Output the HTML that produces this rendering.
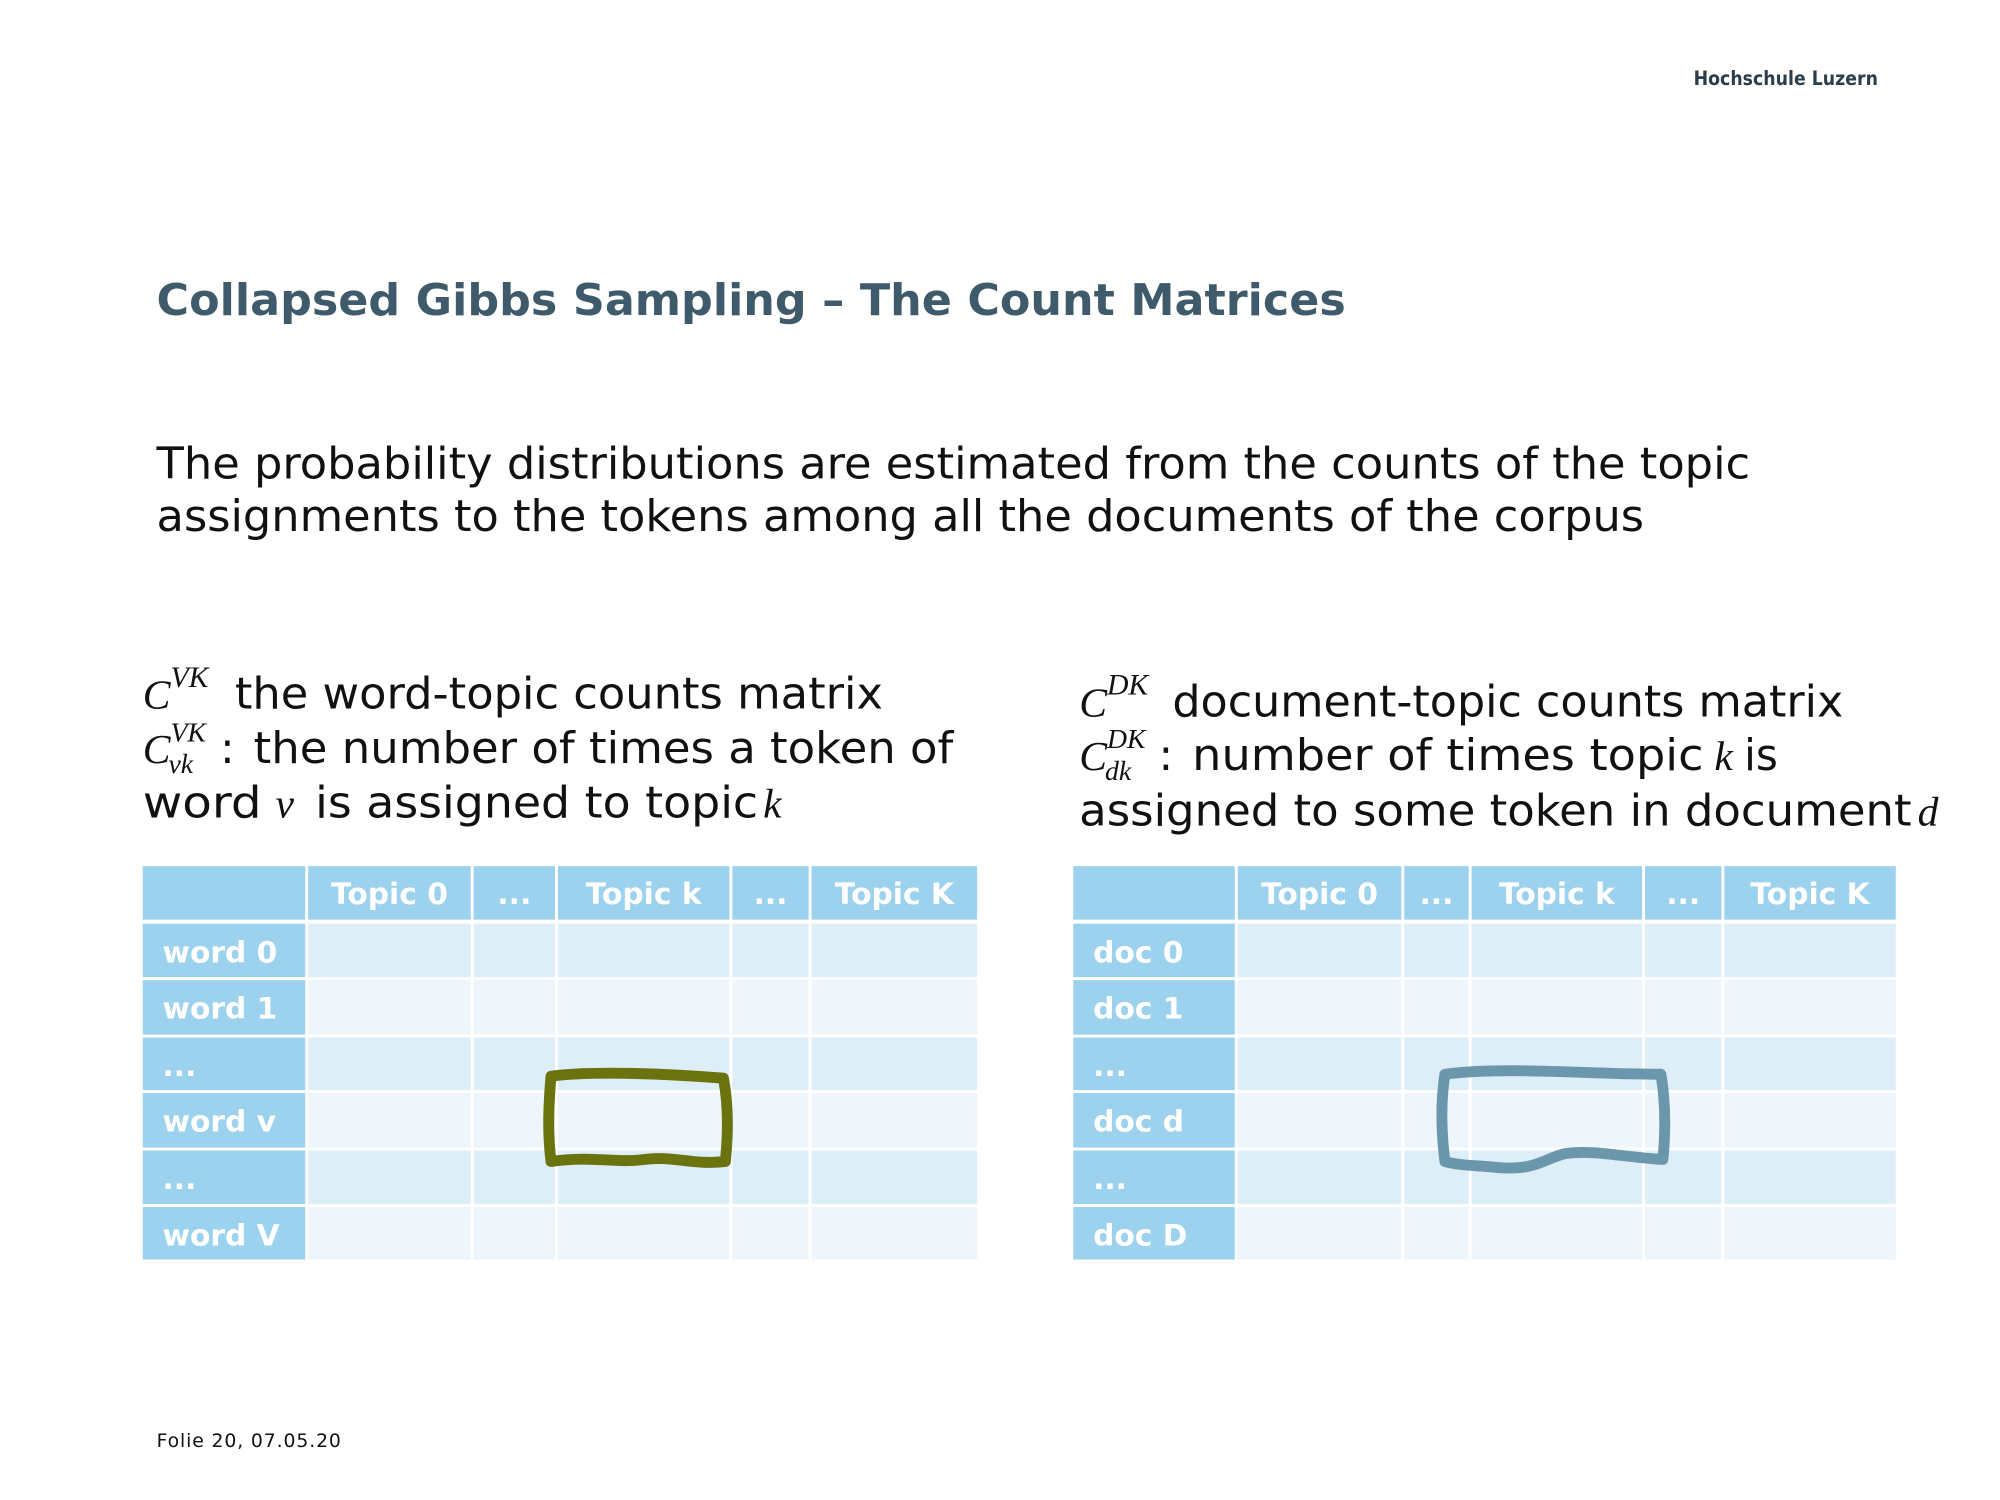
<!DOCTYPE html>
<html><head><meta charset="utf-8"><style>
html,body{margin:0;padding:0;background:#fff;}
svg{display:block;}
.b{font-family:"DejaVu Sans","Liberation Sans",sans-serif;fill:#111;font-size:44px;}
.m{font-family:"Liberation Serif","DejaVu Serif",serif;font-style:italic;fill:#111;}
.th{font-family:"DejaVu Sans","Liberation Sans",sans-serif;font-weight:bold;fill:#fff;font-size:30px;}
</style></head><body>
<svg id="s" width="2000" height="1500" viewBox="0 0 2000 1500" xmlns="http://www.w3.org/2000/svg">
<rect width="2000" height="1500" fill="#fff"/>
<g transform="scale(0.991)">
<text x="1709" y="86" font-family="DejaVu Sans, sans-serif" font-size="20" font-weight="bold" fill="#2c3e4a" textLength="186" lengthAdjust="spacingAndGlyphs">Hochschule Luzern</text>
<text x="158" y="318" font-family="DejaVu Sans, sans-serif" font-weight="bold" font-size="44" fill="#3f5b6b" textLength="1200" lengthAdjust="spacingAndGlyphs">Collapsed Gibbs Sampling – The Count Matrices</text>
<text class="b" x="158" y="483" textLength="1608" lengthAdjust="spacingAndGlyphs">The probability distributions are estimated from the counts of the topic</text>
<text class="b" x="158" y="536" textLength="1501" lengthAdjust="spacingAndGlyphs">assignments to the tokens among all the documents of the corpus</text>

<g>
<text class="m" x="144" y="715" font-size="42">C</text><text class="m" x="172" y="693" font-size="30">VK</text>
<text class="b" x="237" y="715" textLength="654" lengthAdjust="spacingAndGlyphs">the word-topic counts matrix</text>
<text class="m" x="144" y="770" font-size="42">C</text><text class="m" x="172" y="748" font-size="28">VK</text><text class="m" x="170" y="780" font-size="28">vk</text>
<text class="b" x="222" y="770">:</text>
<text class="b" x="256" y="770" textLength="706" lengthAdjust="spacingAndGlyphs">the number of times a token of</text>
<text class="b" x="144" y="825" textLength="120" lengthAdjust="spacingAndGlyphs">word</text><text class="m" x="278" y="825" font-size="42">v</text>
<text class="b" x="318" y="825" textLength="447" lengthAdjust="spacingAndGlyphs">is assigned to topic</text><text class="m" x="770" y="825" font-size="42">k</text>
</g>
<g>
<text class="m" x="1089" y="723" font-size="42">C</text><text class="m" x="1117" y="701" font-size="30">DK</text>
<text class="b" x="1183" y="723" textLength="677" lengthAdjust="spacingAndGlyphs">document-topic counts matrix</text>
<text class="m" x="1089" y="777" font-size="42">C</text><text class="m" x="1117" y="755" font-size="28">DK</text><text class="m" x="1115" y="787" font-size="28">dk</text>
<text class="b" x="1169" y="777">:</text>
<text class="b" x="1203" y="777" textLength="516" lengthAdjust="spacingAndGlyphs">number of times topic</text><text class="m" x="1730" y="777" font-size="42">k</text>
<text class="b" x="1760" y="777" textLength="34" lengthAdjust="spacingAndGlyphs">is</text>
<text class="b" x="1089" y="833" textLength="840" lengthAdjust="spacingAndGlyphs">assigned to some token in document</text><text class="m" x="1935" y="833" font-size="42">d</text>
</g>
<g id="tables"></g>
<path d="M556,1086 C600,1080 680,1084 730,1088 C736,1120 734,1150 732,1172 C700,1176 680,1166 650,1170 C620,1174 600,1166 556,1172 C552,1140 554,1110 556,1086 Z" fill="none" stroke="#6b730f" stroke-width="11" stroke-linejoin="round"/>
<path d="M1458,1084 C1520,1076 1600,1084 1676,1084 C1682,1120 1680,1150 1678,1170 C1640,1168 1610,1160 1580,1164 C1560,1168 1550,1182 1510,1178 C1490,1176 1470,1176 1458,1172 C1454,1140 1454,1110 1458,1084 Z" fill="none" stroke="#6b97ad" stroke-width="11" stroke-linejoin="round"/>
<text x="158" y="1460" font-family="DejaVu Sans, sans-serif" font-size="19" fill="#111" textLength="186">Folie  20, 07.05.20</text>
</g>
</svg>
<script>
const NS="http://www.w3.org/2000/svg";
const g=document.getElementById('tables');
const headers=["","Topic 0","...","Topic k","...","Topic K"];
const leftRows=["word 0","word 1","...","word v","...","word V"];
const rightRows=["doc 0","doc 1","...","doc d","...","doc D"];
const rowY=[874,932,989,1047,1103,1161,1218,1274];
function table(cols,rows,name){
  const tg=document.createElementNS(NS,'g');
  
  
  g.appendChild(tg);
  for(let r=0;r<7;r++){
    for(let c=0;c<6;c++){
      const x=cols[c],w=cols[c+1]-cols[c]-3;
      const y=rowY[r],h=(r==0?54:rowY[r+1]-rowY[r]-3);
      let fill;
      if(r==0||c==0) fill="#9dd2ee"; else fill=(r%2==1)?"#deeef8":"#eef6fb";
      const rc=document.createElementNS(NS,'rect');
      rc.setAttribute('x',x);rc.setAttribute('y',y);rc.setAttribute('width',w);rc.setAttribute('height',h);rc.setAttribute('fill',fill);
      
      
      tg.appendChild(rc);
      let label=null, tx, anchor='start';
      if(r==0&&c>0){label=headers[c];tx=x+w/2;anchor='middle';}
      else if(r>0&&c==0){label=rows[r-1];tx=x+20;}
      if(label){
        const t=document.createElementNS(NS,'text');
        t.setAttribute('x',tx);t.setAttribute('y',y+(r==0?38:39));
        t.setAttribute('class','th');t.setAttribute('text-anchor',anchor);
        
        
        t.textContent=label;tg.appendChild(t);
      }
    }
  }
}
table([144,311,478,563,739,819,989],leftRows,'word-topic-table');
table([1083,1249,1417,1485,1660,1740,1916],rightRows,'doc-topic-table');
</script>
</body></html>
